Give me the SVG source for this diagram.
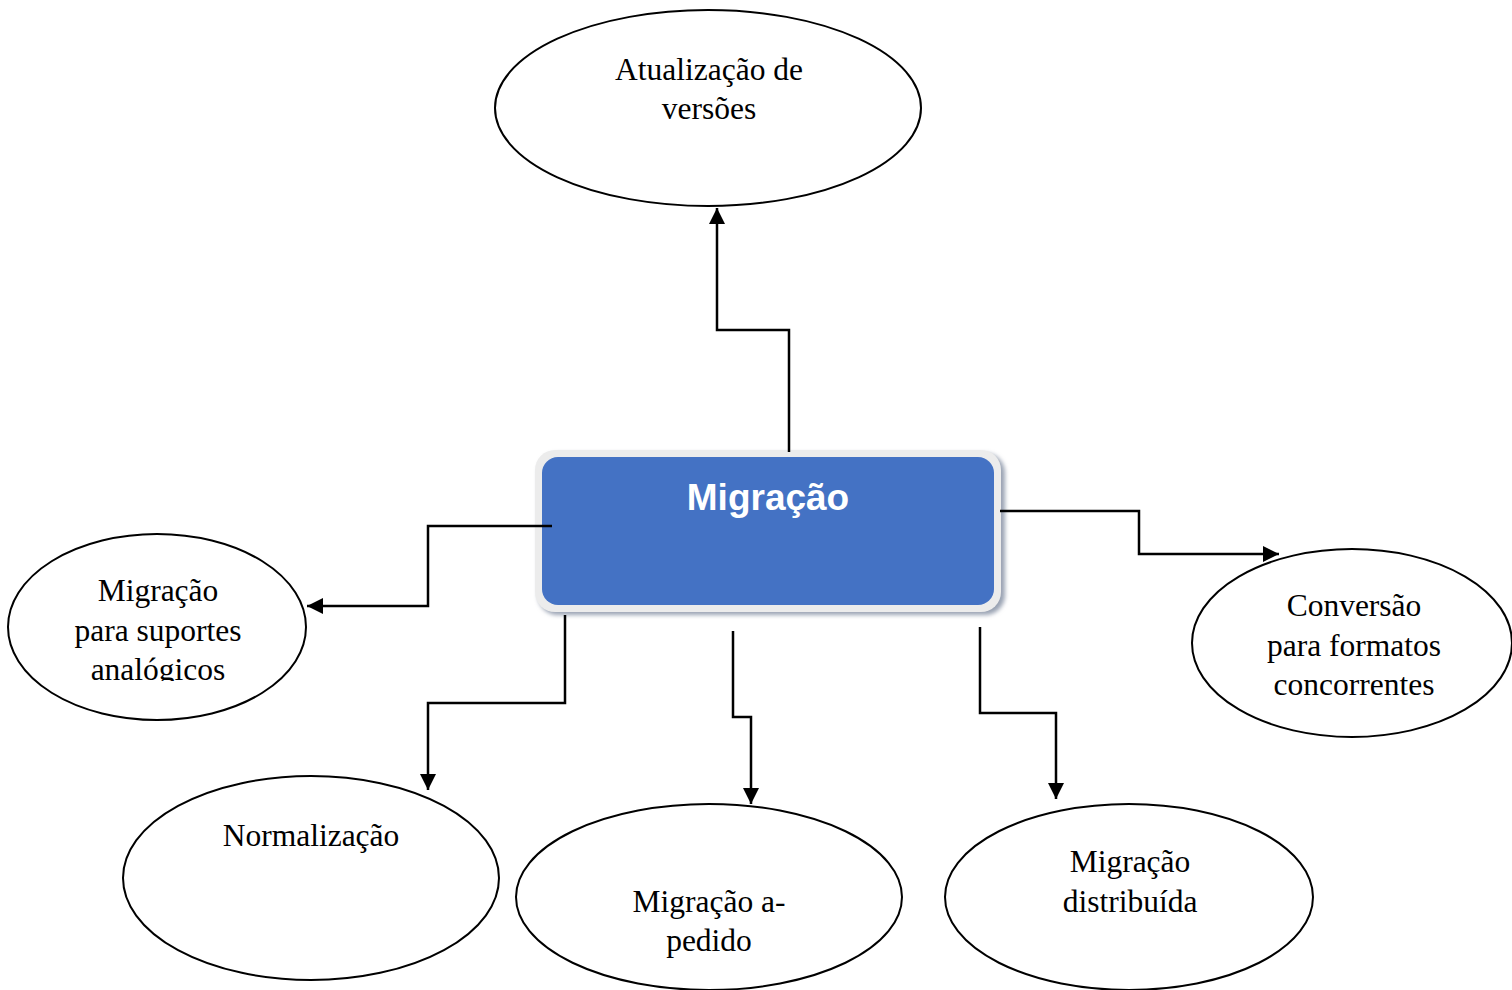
<svg xmlns="http://www.w3.org/2000/svg" width="1512" height="990" viewBox="0 0 1512 990">
<style>
.ell{fill:#ffffff;stroke:#000000;stroke-width:2}
.lbl{font-family:"Liberation Serif","Times New Roman",serif;font-size:31.5px;fill:#000000;text-anchor:middle}
.con{fill:none;stroke:#000000;stroke-width:2.5}
.title{font-family:"Liberation Sans",Arial,sans-serif;font-size:37px;font-weight:bold;fill:#ffffff;text-anchor:middle}
</style>
<defs>
<marker id="arr" viewBox="0 0 10 10" refX="10" refY="5" markerWidth="6.4" markerHeight="6.4" orient="auto" markerUnits="strokeWidth">
<path d="M0,0 L10,5 L0,10 Z" fill="#000000"/>
</marker>
<filter id="sh" x="-5%" y="-10%" width="115%" height="130%">
<feGaussianBlur stdDeviation="2"/>
</filter>
<clipPath id="clipAna"><rect x="0" y="520" width="330" height="161"/></clipPath>
</defs>
<rect width="1512" height="990" fill="#ffffff"/>

<g id="node-migracao">
<rect x="538" y="453" width="467" height="162" rx="20" fill="#9aa3b3" filter="url(#sh)"/>
<rect x="535" y="450" width="466" height="162" rx="20" fill="#ececec"/>
<rect x="542" y="457" width="452" height="148" rx="16" fill="#4472c4"/>
<text class="title" x="768" y="510">Migração</text>
</g>

<g id="connectors">
<polyline class="con" points="789,452 789,330 717,330 717,208" marker-end="url(#arr)"/>
<polyline class="con" points="552,526 428,526 428,606 307,606" marker-end="url(#arr)"/>
<polyline class="con" points="1000,511 1139,511 1139,554 1279,554" marker-end="url(#arr)"/>
<polyline class="con" points="565,615 565,703 428,703 428,790" marker-end="url(#arr)"/>
<polyline class="con" points="733,631 733,717 751,717 751,804" marker-end="url(#arr)"/>
<polyline class="con" points="980,627 980,713 1056,713 1056,799" marker-end="url(#arr)"/>
</g>

<g id="node-atualizacao">
<ellipse class="ell" cx="708" cy="108" rx="213" ry="98"/>
<text class="lbl" x="709" y="80">Atualização de</text>
<text class="lbl" x="709" y="119">versões</text>
</g>

<g id="node-analogicos">
<ellipse class="ell" cx="157" cy="627" rx="149" ry="93"/>
<g clip-path="url(#clipAna)">
<text class="lbl" x="158" y="601">Migração</text>
<text class="lbl" x="158" y="641">para suportes</text>
<text class="lbl" x="158" y="680">analógicos</text>
</g>
</g>

<g id="node-conversao">
<ellipse class="ell" cx="1352" cy="643" rx="160" ry="94"/>
<text class="lbl" x="1354" y="616">Conversão</text>
<text class="lbl" x="1354" y="656">para formatos</text>
<text class="lbl" x="1354" y="695">concorrentes</text>
</g>

<g id="node-normalizacao">
<ellipse class="ell" cx="311" cy="878" rx="188" ry="102"/>
<text class="lbl" x="311" y="846">Normalização</text>
</g>

<g id="node-apedido">
<ellipse class="ell" cx="709" cy="897" rx="193" ry="93"/>
<text class="lbl" x="709" y="912">Migração a-</text>
<text class="lbl" x="709" y="951">pedido</text>
</g>

<g id="node-distribuida">
<ellipse class="ell" cx="1129" cy="897" rx="184" ry="93"/>
<text class="lbl" x="1130" y="872">Migração</text>
<text class="lbl" x="1130" y="912">distribuída</text>
</g>
</svg>
